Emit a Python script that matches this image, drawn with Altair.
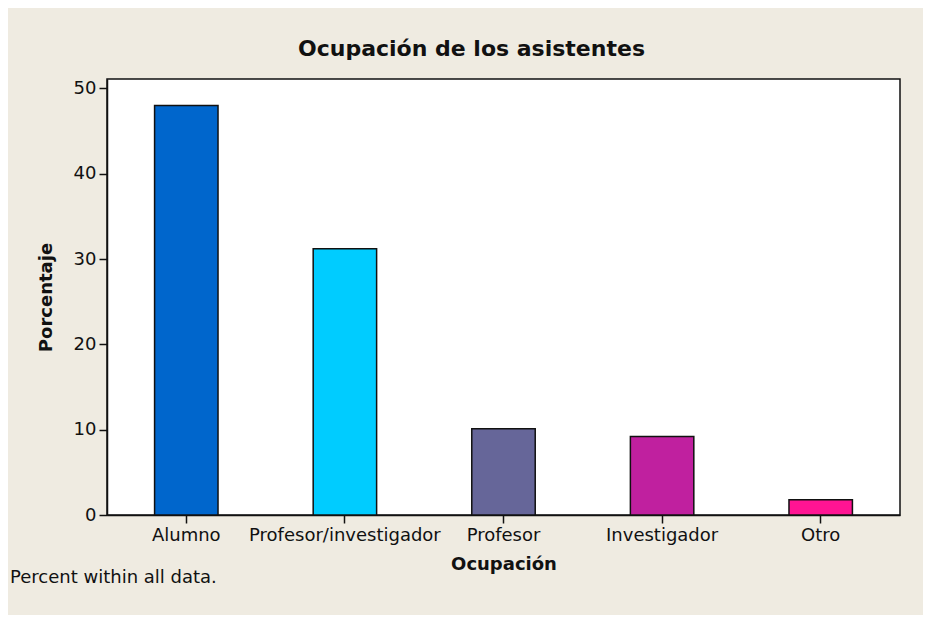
import altair as alt
import pandas as pd

categorias = ["Alumno", "Profesor/investigador", "Profesor", "Investigador", "Otro"]
porcentajes = [48.0, 31.2, 10.1, 9.2, 1.8]
colores = ["#0066CC", "#00CCFF", "#666699", "#C0209F", "#FF1493"]
y_ticks = [0, 10, 20, 30, 40, 50]

df = pd.DataFrame({"Ocupación": categorias, "Porcentaje": porcentajes})

FONT = "DejaVu Sans"

bars = alt.Chart(df).mark_bar(stroke="#111111", strokeWidth=1.5).encode(
    x=alt.X(
        "Ocupación:N",
        sort=categorias,
        scale=alt.Scale(paddingInner=0.6, paddingOuter=0.3),
        axis=alt.Axis(
            title="Ocupación", labelAngle=0, tickSize=8, labelPadding=3,
            labelLimit=0, titlePadding=11, domainColor="#111111",
            tickColor="#111111", domainWidth=1.5, tickWidth=1.5,
        ),
    ),
    y=alt.Y(
        "Porcentaje:Q",
        scale=alt.Scale(domain=[0, 51.1], nice=False, zero=True),
        axis=alt.Axis(
            title="Porcentaje", values=y_ticks, tickSize=8, labelPadding=3,
            titlePadding=18, grid=False, domainColor="#111111",
            tickColor="#111111", domainWidth=1.5, tickWidth=1.5,
        ),
    ),
    color=alt.Color(
        "Ocupación:N",
        scale=alt.Scale(domain=categorias, range=colores),
        legend=None,
    ),
)

nota = alt.Chart(pd.DataFrame({"t": ["Percent within all data."]})).mark_text(
    align="left", baseline="middle", font=FONT, fontSize=18, color="#111111"
).encode(x=alt.value(-97), y=alt.value(499), text="t:N")

chart = alt.layer(bars, nota).properties(
    width=793,
    height=436,
    background="#EFEBE1",
    padding={"left": 99, "top": 71, "right": 23, "bottom": 100},
    autosize=alt.AutoSizeParams(type="none"),
    title=alt.TitleParams(
        "Ocupación de los asistentes", font=FONT, fontSize=22,
        fontWeight="bold", color="#111111", anchor="middle", dx=-32, offset=18,
    ),
).configure_view(
    fill="white", stroke="#111111", strokeWidth=1.5
).configure_axis(
    labelFont=FONT, labelFontSize=18, labelColor="#111111",
    titleFont=FONT, titleFontSize=18, titleFontWeight="bold", titleColor="#111111",
)

chart.save("out.html", embed_options={"renderer": "svg", "actions": False})
